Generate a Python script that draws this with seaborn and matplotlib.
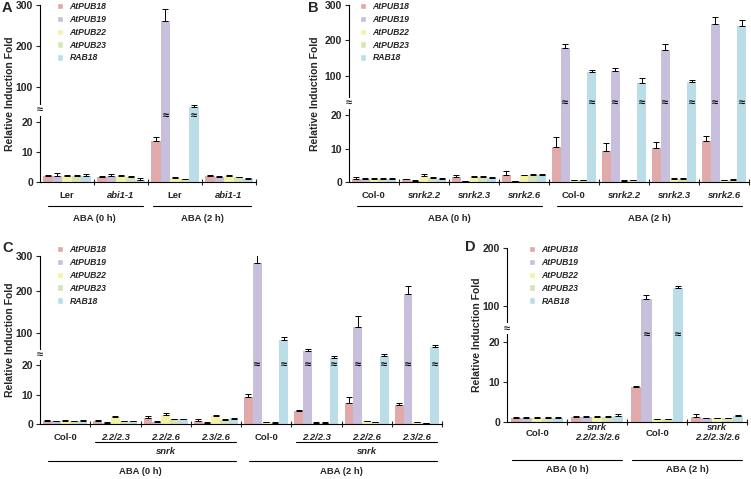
import numpy as np
import pandas as pd
import matplotlib
matplotlib.use('Agg')
import matplotlib.pyplot as plt
import matplotlib.patches as mpatches
import matplotlib.transforms as mtransforms
from matplotlib.lines import Line2D
import seaborn as sns

sns.set_style('ticks')
plt.rcParams['font.family'] = ['Liberation Sans', 'DejaVu Sans']
plt.rcParams['font.weight'] = 'bold'
plt.rcParams['axes.labelweight'] = 'bold'

genes = ['AtPUB18', 'AtPUB19', 'AtPUB22', 'AtPUB23', 'RAB18']
colors = ['#dfaaa9', '#c7bfdc', '#f4f3a3', '#d9e3b8', '#badde7']

# panel A: Ler / abi1-1, ABA 0 h and 2 h
a_labels = ['Ler', 'abi1-1', 'Ler', 'abi1-1']
a_mean = [[2.0, 1.8, 13.7, 2.1],
          [2.1, 2.0, 262, 1.8],
          [1.9, 2.0, 1.5, 2.1],
          [1.9, 1.8, 1.0, 1.6],
          [2.0, 0.8, 55, 1.0]]
a_sd = [[0.5, 0.2, 1.4, 0.2],
        [0.8, 0.6, 28, 0.2],
        [0.3, 0.2, 0.2, 0.2],
        [0.4, 0.3, 0.1, 0.2],
        [0.6, 0.4, 4, 0.2]]

# panel B: single snrk mutants
b_labels = ['Col-0', 'snrk2.2', 'snrk2.3', 'snrk2.6'] * 2
b_mean = [[1.0, 0.8, 1.4, 2.0, 10.7, 9.5, 10.4, 12.4],
          [0.9, 0.4, 0.2, 0.3, 178, 113, 172, 245],
          [1.0, 1.8, 1.5, 2.0, 0.5, 0.4, 1.0, 0.5],
          [1.0, 1.3, 1.6, 2.1, 0.5, 0.6, 1.0, 0.7],
          [1.0, 1.0, 1.3, 2.1, 110, 86, 87, 239]]
b_sd = [[0.4, 0.2, 0.8, 1.2, 2.9, 2.2, 1.8, 1.5],
        [0.2, 0.1, 0.1, 0.1, 12, 10, 18, 21],
        [0.3, 0.6, 0.2, 0.2, 0.1, 0.1, 0.1, 0.1],
        [0.2, 0.2, 0.2, 0.3, 0.1, 0.1, 0.1, 0.1],
        [0.3, 0.2, 0.1, 0.4, 6, 10, 4, 19]]

# panel C: double snrk mutants
c_labels = ['Col-0', '2.2/2.3', '2.2/2.6', '2.3/2.6'] * 2
c_mean = [[1.1, 1.0, 2.0, 1.0, 9.3, 4.5, 7.1, 6.5],
          [1.1, 0.5, 0.8, 0.5, 279, 56, 114, 193],
          [1.2, 2.3, 3.0, 2.9, 0.6, 0.5, 0.9, 0.7],
          [1.1, 0.9, 1.6, 1.5, 0.5, 0.5, 0.6, 0.4],
          [1.2, 0.9, 1.6, 1.8, 82, 38, 43, 66]]
c_sd = [[0.2, 0.4, 0.8, 0.8, 1.2, 0.3, 2.2, 0.8],
        [0.1, 0.1, 0.1, 0.1, 29, 3, 26, 22],
        [0.1, 0.3, 0.7, 0.2, 0.1, 0.1, 0.1, 0.1],
        [0.1, 0.1, 0.1, 0.1, 0.1, 0.1, 0.1, 0.1],
        [0.1, 0.1, 0.1, 0.2, 8, 4, 3.5, 5]]

# panel D: triple snrk mutant
d_mean = [[1.0, 1.2, 8.7, 1.2],
          [1.0, 1.3, 112, 1.0],
          [1.0, 1.2, 0.7, 1.0],
          [1.0, 1.3, 0.7, 1.0],
          [1.1, 1.5, 130, 1.5]]
d_sd = [[0.3, 0.4, 0.3, 0.8],
        [0.2, 0.2, 6, 0.1],
        [0.2, 0.4, 0.1, 0.1],
        [0.2, 0.2, 0.1, 0.1],
        [0.2, 0.4, 4, 0.2]]

W, H = 751, 479
fig = plt.figure(figsize=(W / 100, H / 100), dpi=100)


def make_scale(vals, pix):
    # piecewise linear y axis (broken axis look)
    vals = np.asarray(vals, float)
    pix = np.asarray(pix, float)
    s0 = (pix[1] - pix[0]) / (vals[1] - vals[0])
    s1 = (pix[-1] - pix[-2]) / (vals[-1] - vals[-2])
    v = np.concatenate([[vals[0] - 1000], vals, [vals[-1] + 1000]])
    p = np.concatenate([[pix[0] - 1000 * s0], pix, [pix[-1] + 1000 * s1]])
    return (lambda y: np.interp(y, v, p)), (lambda q: np.interp(q, p, v))


def px_axes(l, t, r, b):
    return fig.add_axes([l / W, 1 - b / H, (r - l) / W, (b - t) / H])


def under(ax, x, dy, s, size=6.8, style='normal'):
    tr = mtransforms.offset_copy(ax.get_xaxis_transform(), fig=fig, y=-dy, units='dots')
    ax.text(x, 0, s, transform=tr, ha='center', va='center', clip_on=False,
            fontsize=size, fontstyle=style, fontweight='bold')


def hline(ax, x0, x1, dy):
    tr = mtransforms.offset_copy(ax.get_xaxis_transform(), fig=fig, y=-dy, units='dots')
    fig.add_artist(Line2D([x0, x1], [0, 0], transform=tr, color='black', lw=0.8))


def draw_panel(ax, mean, sd, ticks, tick_px, mark_val, break_val, ylab_x, leg_xy):
    n = len(mean[0])
    rows = []
    for g, m in zip(genes, mean):
        for i, v in enumerate(m):
            rows.append({'pos': i, 'gene': g, 'value': v})
    df = pd.DataFrame(rows)
    sns.barplot(data=df, x='pos', y='value', hue='gene', hue_order=genes,
                palette=colors, width=0.88, saturation=1, errorbar=None,
                legend=False, linewidth=0, ax=ax)
    fwd, inv = make_scale(ticks, tick_px)
    ax.set_yscale('function', functions=(fwd, inv))
    ax.set_ylim(0, ticks[-1])
    ax.set_xlim(-0.5, n - 0.5)
    ax.set_yticks(ticks)
    ax.set_yticklabels([str(t) for t in ticks])
    ax.set_xticks([])
    ax.set_xticks(np.arange(0.5, n), minor=True)
    ax.tick_params(axis='y', which='major', length=3, width=0.8, labelsize=7.5, pad=2)
    ax.tick_params(axis='x', which='minor', direction='inout', length=5, width=0.8)
    ax.set_xlabel('')
    ax.set_ylabel('Relative Induction Fold', fontsize=7.5)
    ax.yaxis.set_label_coords(ylab_x, 0.5)
    sns.despine(ax=ax)
    for sp in ['left', 'bottom']:
        ax.spines[sp].set_linewidth(0.8)
        ax.spines[sp].set_color('black')

    bars = list(ax.containers)
    for cont, s in zip(bars, sd):
        xs = [p.get_x() + p.get_width() / 2 for p in cont]
        hs = [p.get_height() for p in cont]
        ax.errorbar(xs, hs, yerr=[np.zeros(n), s], fmt='none', ecolor='black',
                    elinewidth=0.7, capsize=2.2, capthick=0.7)
        for x, h in zip(xs, hs):
            if h > 20:
                ax.text(x, mark_val, '≈', ha='center', va='center', fontsize=8,
                        color='black', zorder=4)
    ax.text(0, break_val, '≈', transform=ax.get_yaxis_transform(), ha='center',
            va='center', fontsize=8, clip_on=False, zorder=5,
            bbox=dict(fc='white', ec='none', pad=0.2))

    handles = [mpatches.Patch(facecolor=c, label=g) for g, c in zip(genes, colors)]
    ax.legend(handles=handles, loc='upper left',
              bbox_to_anchor=(leg_xy[0] / W, 1 - leg_xy[1] / H),
              bbox_transform=fig.transFigure, frameon=False,
              prop={'style': 'italic', 'weight': 'bold', 'size': 6.2},
              handlelength=0.75, handleheight=0.75, handletextpad=0.7,
              labelspacing=0.45, borderpad=0, borderaxespad=0)


full_ticks = [0, 10, 20, 100, 200, 300]

# A
ax_a = px_axes(40, 5, 256, 182)
draw_panel(ax_a, a_mean, a_sd, full_ticks, [0, 30, 60, 95, 136, 177],
           34, 47, -0.116, (57, 2))
for i, lab in enumerate(a_labels):
    under(ax_a, i, 13, lab, style='normal' if lab == 'Ler' else 'italic')
hline(ax_a, -0.35, 1.4, 24)
hline(ax_a, 1.6, 3.4, 24)
under(ax_a, 0.5, 36, 'ABA (0 h)')
under(ax_a, 2.5, 36, 'ABA (2 h)')

# B
ax_b = px_axes(349, 5, 749, 182)
draw_panel(ax_b, b_mean, b_sd, full_ticks, [0, 33, 67, 106, 142, 177],
           44, 44, -0.0725, (360, 2))
for i, lab in enumerate(b_labels):
    under(ax_b, i, 13, lab, style='normal' if lab == 'Col-0' else 'italic')
hline(ax_b, -0.35, 3.35, 24)
hline(ax_b, 3.65, 7.35, 24)
under(ax_b, 1.5, 36, 'ABA (0 h)')
under(ax_b, 5.5, 36, 'ABA (2 h)')

# C
ax_c = px_axes(40, 256, 442, 424)
draw_panel(ax_c, c_mean, c_sd, full_ticks, [0, 29, 59, 91, 133, 168],
           21, 45, -0.062, (57, 245))
for i, lab in enumerate(c_labels):
    under(ax_c, i, 13, lab, style='normal' if lab == 'Col-0' else 'italic')
hline(ax_c, 0.6, 3.4, 18)
hline(ax_c, 4.6, 7.4, 18)
under(ax_c, 2, 27, 'snrk', style='italic')
under(ax_c, 6, 27, 'snrk', style='italic')
hline(ax_c, -0.35, 3.4, 37)
hline(ax_c, 3.65, 7.4, 37)
under(ax_c, 1.5, 48, 'ABA (0 h)')
under(ax_c, 5.5, 48, 'ABA (2 h)')

# D
ax_d = px_axes(507, 248, 747, 422)
draw_panel(ax_d, d_mean, d_sd, [0, 10, 20, 100, 200], [0, 40, 80, 117, 175],
           37, 50, -0.104, (529, 245))
for i in [0, 2]:
    under(ax_d, i, 11, 'Col-0')
for i in [1, 3]:
    under(ax_d, i, 5, 'snrk', style='italic')
    under(ax_d, i, 16, '2.2/2.3/2.6', style='italic')
hline(ax_d, -0.42, 1.42, 38)
hline(ax_d, 1.58, 3.42, 38)
under(ax_d, 0.5, 48, 'ABA (0 h)')
under(ax_d, 2.5, 48, 'ABA (2 h)')

for lbl, (x, y) in zip('ABCD', [(7, 8), (313, 8), (8, 248), (470, 247)]):
    fig.text(x / W, 1 - y / H, lbl, fontsize=10.5, fontweight='bold',
             ha='center', va='center')

fig.savefig('out.png', dpi=100, facecolor='white')
